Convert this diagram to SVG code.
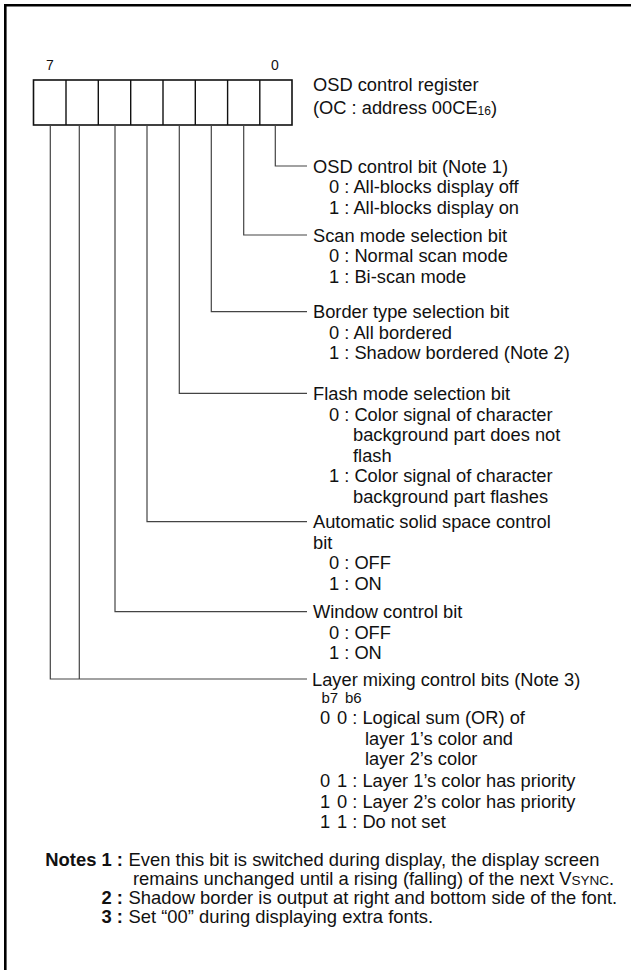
<svg xmlns="http://www.w3.org/2000/svg" width="631" height="970" viewBox="0 0 631 970">
<style>
text{font-family:"Liberation Sans",Arial,Helvetica,sans-serif;font-size:18.3px;fill:#111}
.sm{font-size:14px}
.b7{font-size:15px}
.sub{font-size:12px}
.sc{font-size:13.5px}
.note{font-size:18.4px}
.bold{font-weight:bold}
.frame{fill:none;stroke:#000;stroke-width:2.6}
.reg{fill:#fff;stroke:#111;stroke-width:1.6}
.div{stroke:#111;stroke-width:1.4}
.con{fill:none;stroke:#444;stroke-width:1.2}
</style>
<rect width="631" height="970" fill="#fff"/>
<path class="frame" d="M5.3 970 V5.3 H640"/>
<g id="register">
<rect class="reg" x="33.5" y="80" width="258.5" height="45"/>
<path class="div" d="M66 80V125M98.3 80V125M130.7 80V125M163 80V125M195.3 80V125M227.6 80V125M259.8 80V125"/>
<text class="sm" x="50" y="70" text-anchor="middle">7</text>
<text class="sm" x="275" y="70" text-anchor="middle">0</text>
<text x="313" y="91">OSD control register</text>
<text x="313" y="114">(OC : address 00CE<tspan class="sub" dy="1">16</tspan><tspan dy="-1">)</tspan></text>
</g>
<g id="connectors">
<path class="con" d="M275.3 125V166H307"/>
<path class="con" d="M243.7 125V235H307"/>
<path class="con" d="M211.3 125V311.7H307"/>
<path class="con" d="M179.3 125V393.3H307"/>
<path class="con" d="M147 125V521.7H307"/>
<path class="con" d="M115 125V611.7H307"/>
<path class="con" d="M79.3 125V679"/>
<path class="con" d="M50.3 125V679H307"/>
</g>
<g id="bit0">
<text x="313" y="172.5">OSD control bit (Note 1)</text>
<text x="329" y="193">0 : All-blocks display off</text>
<text x="329" y="213.5">1 : All-blocks display on</text>
</g>
<g id="bit1">
<text x="313" y="241.5">Scan mode selection bit</text>
<text x="329" y="262">0 : Normal scan mode</text>
<text x="329" y="282.5">1 : Bi-scan mode</text>
</g>
<g id="bit2">
<text x="313" y="318">Border type selection bit</text>
<text x="329" y="338.5">0 : All bordered</text>
<text x="329" y="359">1 : Shadow bordered (Note 2)</text>
</g>
<g id="bit3">
<text x="313" y="400">Flash mode selection bit</text>
<text x="329" y="420.5">0 : Color signal of character</text>
<text x="353" y="441">background part does not</text>
<text x="353" y="461.5">flash</text>
<text x="329" y="482">1 : Color signal of character</text>
<text x="353" y="502.5">background part flashes</text>
</g>
<g id="bit4">
<text x="313" y="528">Automatic solid space control</text>
<text x="313" y="548.5">bit</text>
<text x="329" y="569">0 : OFF</text>
<text x="329" y="589.5">1 : ON</text>
</g>
<g id="bit5">
<text x="313" y="618">Window control bit</text>
<text x="329" y="638.5">0 : OFF</text>
<text x="329" y="659">1 : ON</text>
</g>
<g id="bit76">
<text x="312" y="685.5">Layer mixing control bits (Note 3)</text>
<text class="b7" x="321.5" y="703">b7</text><text class="b7" x="345" y="703">b6</text>
<text x="320" y="724">0</text><text x="337" y="724">0 : Logical sum (OR) of</text>
<text x="365" y="744.5">layer 1’s color and</text>
<text x="365" y="765">layer 2’s color</text>
<text x="320" y="787">0</text><text x="337" y="787">1 : Layer 1’s color has priority</text>
<text x="320" y="807.5">1</text><text x="337" y="807.5">0 : Layer 2’s color has priority</text>
<text x="320" y="828">1</text><text x="337" y="828">1 : Do not set</text>
</g>
<g id="notes">
<text class="note bold" x="123" y="866" text-anchor="end">Notes 1 :</text>
<text class="note" x="128.5" y="866">Even this bit is switched during display, the display screen</text>
<text class="note" x="133" y="885">remains unchanged until a rising (falling) of the next V<tspan class="sc">SYNC</tspan>.</text>
<text class="note bold" x="123" y="904" text-anchor="end">2 :</text>
<text class="note" x="128.5" y="904">Shadow border is output at right and bottom side of the font.</text>
<text class="note bold" x="123" y="923" text-anchor="end">3 :</text>
<text class="note" x="128.5" y="923">Set “00” during displaying extra fonts.</text>
</g>
</svg>
